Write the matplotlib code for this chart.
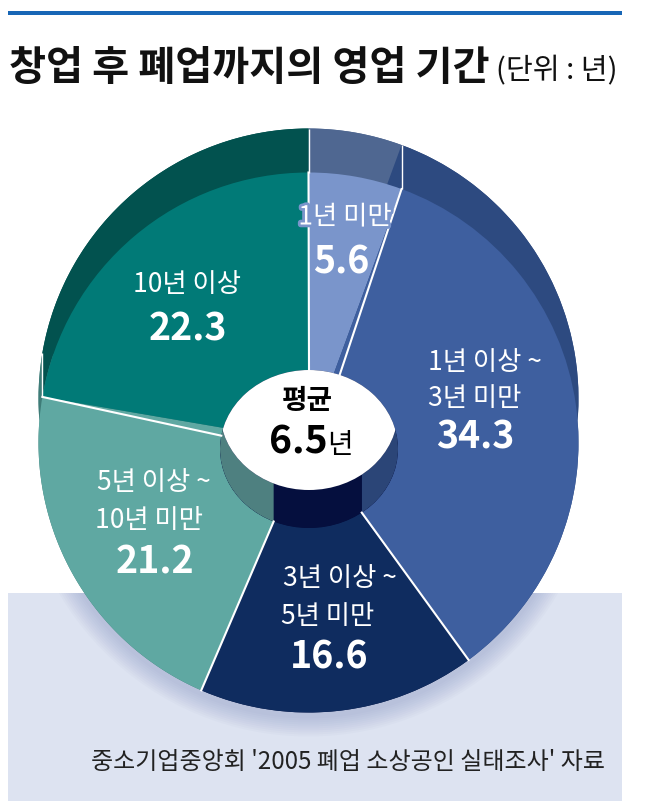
import numpy as np
import matplotlib
matplotlib.use('Agg')
import matplotlib.pyplot as plt
from matplotlib.patches import Wedge, Polygon, Ellipse, Rectangle, Circle
import matplotlib.patheffects as pe

plt.rcParams['font.family'] = ['Noto Sans CJK KR', 'DejaVu Sans']

# ---------------- data ----------------
title = '창업 후 폐업까지의 영업 기간'
unit_label = '(단위 : 년)'
source = "중소기업중앙회 '2005 폐업 소상공인 실태조사' 자료"
categories = ['1년 미만', '1년 이상 ~\n3년 미만', '3년 이상 ~\n5년 미만',
              '5년 이상 ~\n10년 미만', '10년 이상']
values = [5.6, 34.3, 16.6, 21.2, 22.3]
avg_label = '평균'
avg_value = 6.5
avg_unit = '년'

# ---------------- style ----------------
front_colors = ['#7a95cb', '#3e5f9f', '#0f2c5f', '#5fa8a2', '#017a77']
side_colors = ['#4f6791', '#2d4a80', '#061444', '#3e7c78', '#02524f']
wall_colors = ['#50689a', '#2b4577', '#050f3e', '#4e8080', '#00504e']

W, H = 649, 806
fig = plt.figure(figsize=(W / 100, H / 100), dpi=100)
ax = fig.add_axes([0, 0, 1, 1])
ax.set_xlim(0, W)
ax.set_ylim(0, H)
ax.axis('off')


def Y(y):
    return H - y


# top rule
ax.add_patch(Rectangle((8, Y(15)), 614, 4, color='#1766b6', lw=0))

# title
ax.text(9, Y(68), title, fontsize=29, fontweight='bold', ha='left', va='center', color='#111111')
ax.text(496, Y(71), unit_label, fontsize=21, fontweight='medium', ha='left', va='center', color='#111111')

# background box
box = Rectangle((8, Y(801)), 614, 801 - 593, color='#dde3f1', lw=0)
ax.add_patch(box)

# geometry
cx, cy, R, depth = 308.5, Y(442.5), 270, 44
hx, hy, ha_, hb, hdepth = 309, Y(449), 89, 79, 38

# soft shadow under the pie
for k in range(10):
    c = Circle((cx, cy - 5), R + 1 + k * 2.0, fc='#6f7fb5', ec='none', alpha=0.035)
    ax.add_patch(c)
    c.set_clip_path(box)

cum = np.concatenate([[0], np.cumsum(values)]) / np.sum(values)
theta = 90 - 360 * cum   # matplotlib degrees


def arc(xc, yc, a, b, t1, t2, n=120):
    t = np.radians(np.linspace(t1, t2, n))
    return np.column_stack([xc + a * np.cos(t), yc + b * np.sin(t)])


# back face and side walls
for i in range(len(values)):
    t1, t2 = theta[i + 1], theta[i]
    ax.add_patch(Wedge((cx, cy + depth), R, t1, t2, fc=side_colors[i], ec='none'))
    fr = arc(cx, cy, R, R, t1, t2)
    bk = fr + np.array([0, depth])
    ax.add_patch(Polygon(np.vstack([fr, bk[::-1]]), closed=True, fc=side_colors[i], ec='none'))

# band boundary lines
for t in theta[:-1]:
    tr = np.radians(t)
    if np.sin(tr) > 0.05:
        x0, y0 = cx + R * np.cos(tr), cy + R * np.sin(tr)
        ax.plot([x0, x0], [y0, y0 + depth], color='white', lw=1.0, solid_capstyle='butt')

# front face
for i in range(len(values)):
    ax.add_patch(Wedge((cx, cy), R, theta[i + 1], theta[i], fc=front_colors[i], ec='none'))

# radial separators
for t in theta[:-1]:
    tr = np.radians(t)
    ax.plot([hx + ha_ * np.cos(tr), cx + R * np.cos(tr)],
            [hy + hb * np.sin(tr), cy + R * np.sin(tr)], color='white', lw=1.5)

# hole: inner walls + see-through lens
front_hole = Ellipse((hx, hy), 2 * ha_, 2 * hb, fc=wall_colors[2], ec='none')
ax.add_patch(front_hole)
for i in range(len(values)):
    t1, t2 = theta[i + 1], theta[i]
    fr = arc(hx, hy, ha_, hb, t1, t2)
    bk = fr + np.array([0, hdepth])
    p = Polygon(np.vstack([fr, bk[::-1]]), closed=True, fc=wall_colors[i], ec='none')
    ax.add_patch(p)
    p.set_clip_path(front_hole)
lens = Ellipse((hx, hy + hdepth), 2 * ha_, 2 * hb, fc='white', ec='none')
ax.add_patch(lens)
lens.set_clip_path(front_hole)

# ---------------- labels ----------------
reg = dict(color='white', fontsize=19, ha='center', va='center')
bold = dict(color='white', fontsize=27, fontweight='bold', ha='center', va='center')

halo = [pe.withStroke(linewidth=4, foreground=front_colors[0])]
ax.text(345, Y(217), categories[0], path_effects=halo, **reg)
ax.text(341, Y(262), f'{values[0]}', **bold)

l1, l2 = categories[1].split('\n')
ax.text(485, Y(362), l1, **reg)
ax.text(475, Y(398), l2, **reg)
ax.text(475, Y(437), f'{values[1]}', **bold)

l1, l2 = categories[2].split('\n')
ax.text(340, Y(578), l1, **reg)
ax.text(328, Y(616), l2, **reg)
ax.text(329, Y(657), f'{values[2]}', **bold)

l1, l2 = categories[3].split('\n')
ax.text(154, Y(482), l1, **reg)
ax.text(149, Y(520), l2, **reg)
ax.text(155, Y(562), f'{values[3]}', **bold)

ax.text(187, Y(285), categories[4], **reg)
ax.text(188, Y(329), f'{values[4]}', **bold)

# average
ax.text(307, Y(401), avg_label, fontsize=20, fontweight='bold', color='black', ha='center', va='center')
ax.text(328, Y(453), f'{avg_value}', fontsize=28, fontweight='bold', color='black', ha='right', va='baseline')
ax.text(327, Y(453), avg_unit, fontsize=20, color='black', ha='left', va='baseline')

# source
ax.text(348, Y(762), source, fontsize=17.3, color='#222222', ha='center', va='center')

fig.savefig('out.png', dpi=100)
